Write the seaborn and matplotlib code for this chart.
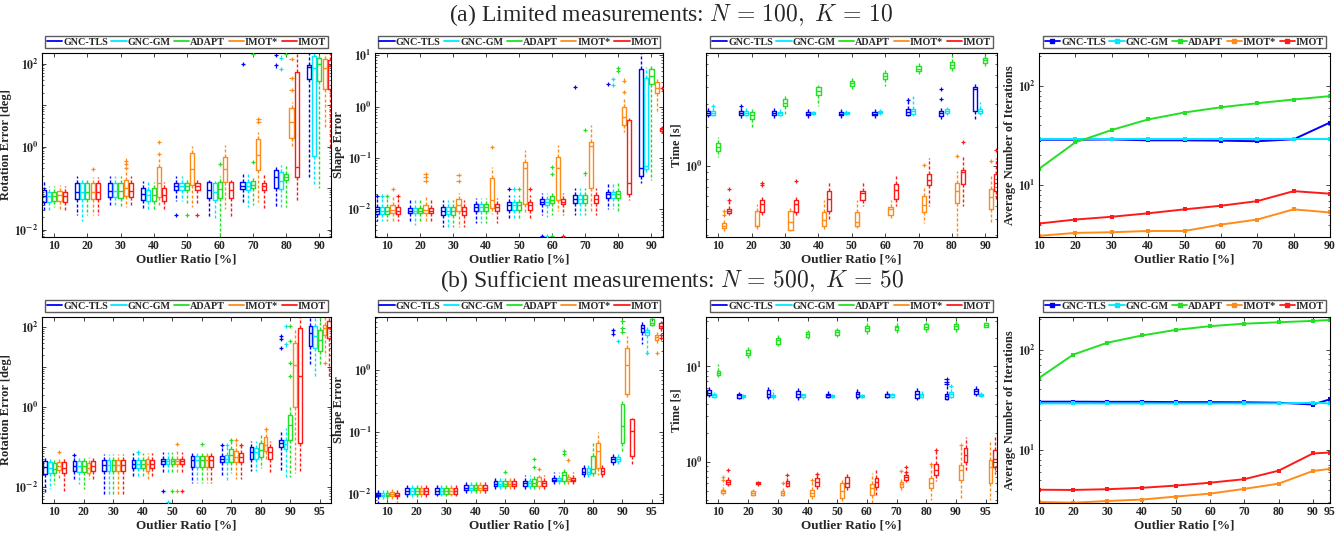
import numpy as np
import pandas as pd
import matplotlib
matplotlib.use('Agg')
import matplotlib.pyplot as plt
import seaborn as sns
from matplotlib.lines import Line2D
from matplotlib.ticker import LogLocator, FuncFormatter, NullFormatter

methods = ['GNC-TLS', 'GNC-GM', 'ADAPT', 'IMOT*', 'IMOT']
colors = ['#0000ff', '#00e8ff', '#22e022', '#ff8c1a', '#ff1a1a']
ratios_a = ['10', '20', '30', '40', '50', '60', '70', '80', '90']
ratios_b = ['10', '20', '30', '40', '50', '60', '70', '80', '90', '95']

# ---- (a) rotation error, rows = outlier ratio, cols = methods
rot_a_lo = [[0.028, 0.030, 0.035, 0.030, 0.030], [0.022, 0.016, 0.022, 0.022, 0.022],
            [0.038, 0.035, 0.035, 0.035, 0.035], [0.030, 0.028, 0.030, 0.035, 0.028],
            [0.050, 0.050, 0.040, 0.035, 0.040], [0.020, 0.017, 0.007, 0.032, 0.020],
            [0.041, 0.034, 0.038, 0.045, 0.032], [0.034, 0.034, 0.034, 0.96, 0.046],
            [0.18, 0.11, 0.10, 3.0, 1.0]]
rot_a_q1 = [[0.047, 0.046, 0.048, 0.048, 0.047], [0.055, 0.055, 0.055, 0.055, 0.055],
            [0.060, 0.060, 0.058, 0.065, 0.060], [0.051, 0.050, 0.050, 0.060, 0.050],
            [0.090, 0.090, 0.090, 0.120, 0.090], [0.057, 0.052, 0.058, 0.140, 0.057],
            [0.093, 0.090, 0.100, 0.270, 0.090], [0.100, 0.095, 0.160, 1.6, 0.18],
            [42, 0.60, 38, 24, 25]]
rot_a_med = [[0.065, 0.063, 0.063, 0.068, 0.063], [0.080, 0.080, 0.080, 0.080, 0.080],
             [0.085, 0.085, 0.085, 0.100, 0.085], [0.070, 0.068, 0.068, 0.130, 0.068],
             [0.110, 0.110, 0.110, 0.290, 0.110], [0.088, 0.080, 0.095, 0.290, 0.088],
             [0.110, 0.110, 0.120, 0.640, 0.110], [0.180, 0.150, 0.180, 3.9, 0.32],
             [83, 80, 96, 80, 88]]
rot_a_q3 = [[0.090, 0.080, 0.080, 0.085, 0.080], [0.13, 0.13, 0.13, 0.13, 0.13],
            [0.13, 0.13, 0.13, 0.16, 0.13], [0.10, 0.09, 0.10, 0.32, 0.10],
            [0.13, 0.13, 0.13, 0.70, 0.13], [0.14, 0.13, 0.14, 0.55, 0.14],
            [0.14, 0.14, 0.15, 1.5, 0.13], [0.27, 0.24, 0.22, 8.5, 63],
            [90, 150, 140, 126, 120]]
rot_a_hi = [[0.16, 0.11, 0.11, 0.12, 0.11], [0.19, 0.17, 0.17, 0.18, 0.18],
            [0.20, 0.20, 0.20, 0.25, 0.20], [0.15, 0.14, 0.14, 0.55, 0.14],
            [0.19, 0.19, 0.17, 1.05, 0.17], [0.16, 0.15, 0.20, 1.1, 0.16],
            [0.22, 0.23, 0.20, 2.2, 0.22], [0.35, 0.35, 0.35, 12, 180],
            [180, 180, 180, 180, 180]]
rot_a_out = [(1, 3, 0.29), (2, 3, 0.46), (2, 3, 0.39), (2, 3, 0.31), (3, 3, 1.3), (3, 3, 0.67),
             (4, 0, 0.022), (4, 2, 0.022), (4, 4, 0.022), (5, 2, 0.37), (6, 3, 4.6), (6, 3, 4.0),
             (6, 2, 0.42), (6, 0, 100), (6, 2, 170), (7, 0, 158), (7, 0, 90), (7, 1, 140),
             (7, 1, 73), (7, 2, 170), (7, 3, 44), (7, 3, 23), (7, 3, 130)]

# ---- (a) shape error
shape_a_lo = [[0.006, 0.006, 0.006, 0.006, 0.006], [0.0056, 0.005, 0.0056, 0.0056, 0.0056],
              [0.0046, 0.0046, 0.0046, 0.0046, 0.0046], [0.0055, 0.0055, 0.0055, 0.0083, 0.0055],
              [0.0064, 0.0064, 0.0064, 0.0083, 0.0064], [0.0077, 0.007, 0.0077, 0.0092, 0.0077],
              [0.0077, 0.0077, 0.0077, 0.009, 0.0077], [0.010, 0.010, 0.0095, 0.32, 0.015],
              [0.032, 0.05, 0.038, 0.8, 0.30]]
shape_a_q1 = [[0.008, 0.008, 0.008, 0.0085, 0.008], [0.0084, 0.0084, 0.0084, 0.0084, 0.0084],
              [0.0078, 0.0082, 0.0078, 0.0095, 0.0078], [0.0093, 0.0093, 0.0093, 0.0105, 0.0093],
              [0.0099, 0.0099, 0.0099, 0.013, 0.0099], [0.0127, 0.012, 0.0135, 0.015, 0.0127],
              [0.0135, 0.0135, 0.0135, 0.026, 0.0135], [0.017, 0.017, 0.017, 0.44, 0.020],
              [0.045, 0.060, 2.7, 1.8, 0.34]]
shape_a_med = [[0.0093, 0.0093, 0.0093, 0.0098, 0.0093], [0.0093, 0.0093, 0.0093, 0.0098, 0.0093],
               [0.0093, 0.0095, 0.0093, 0.012, 0.0093], [0.0113, 0.0113, 0.0113, 0.0152, 0.0113],
               [0.012, 0.012, 0.012, 0.063, 0.012], [0.014, 0.014, 0.0155, 0.063, 0.014],
               [0.016, 0.016, 0.016, 0.17, 0.016], [0.020, 0.020, 0.020, 0.64, 0.032],
               [0.063, 0.070, 4.0, 2.3, 0.36]]
shape_a_q3 = [[0.011, 0.011, 0.011, 0.012, 0.011], [0.0105, 0.0105, 0.0105, 0.012, 0.0105],
              [0.011, 0.0112, 0.011, 0.016, 0.011], [0.0127, 0.0127, 0.0127, 0.041, 0.0127],
              [0.0136, 0.0136, 0.0136, 0.082, 0.0136], [0.016, 0.016, 0.018, 0.105, 0.016],
              [0.019, 0.019, 0.019, 0.20, 0.019], [0.022, 0.022, 0.023, 0.97, 0.55],
              [5.4, 3.6, 5.4, 3.0, 0.38]]
shape_a_hi = [[0.016, 0.016, 0.016, 0.018, 0.016], [0.015, 0.015, 0.015, 0.018, 0.015],
              [0.015, 0.015, 0.015, 0.021, 0.015], [0.017, 0.017, 0.017, 0.066, 0.017],
              [0.019, 0.019, 0.019, 0.14, 0.019], [0.021, 0.021, 0.022, 0.18, 0.021],
              [0.026, 0.026, 0.026, 0.43, 0.026], [0.032, 0.032, 0.033, 1.5, 0.60],
              [11, 5.8, 6.8, 3.6, 0.42]]
shape_a_out = [(0, 0, 0.018), (0, 1, 0.018), (0, 2, 0.018), (0, 3, 0.025), (0, 4, 0.018),
               (1, 3, 0.048), (1, 3, 0.042), (1, 3, 0.036), (2, 3, 0.046), (2, 3, 0.036),
               (3, 3, 0.16), (4, 0, 0.025), (4, 1, 0.025), (4, 2, 0.025), (4, 4, 0.025),
               (5, 0, 0.003), (5, 1, 0.0031), (5, 2, 0.003), (5, 4, 0.003), (5, 2, 0.066),
               (5, 2, 0.048), (6, 0, 2.4), (6, 2, 0.35), (6, 2, 0.05), (7, 0, 2.7), (7, 1, 2.6),
               (7, 1, 3.4), (7, 2, 5.6), (7, 2, 4.9), (7, 3, 1.9), (7, 3, 3.2), (8, 4, 2.3)]

# ---- (a) time
time_a_lo = [[2.37, 2.4, 1.17, 0.32, 0.43], [2.3, 2.4, 1.94, 0.33, 0.43], [2.35, 2.4, 2.5, 0.32, 0.42],
             [2.35, 2.45, 2.86, 0.33, 0.40], [2.35, 2.45, 3.86, 0.34, 0.50], [2.35, 2.45, 4.1, 0.40, 0.50],
             [2.4, 2.4, 5.0, 0.37, 0.50], [2.2, 2.45, 5.1, 0.28, 0.50], [2.3, 2.45, 5.6, 0.37, 0.55]]
time_a_q1 = [[2.45, 2.45, 1.31, 0.34, 0.44], [2.45, 2.47, 2.3, 0.35, 0.45], [2.45, 2.45, 2.86, 0.33, 0.45],
             [2.45, 2.5, 3.5, 0.35, 0.46], [2.45, 2.5, 4.1, 0.35, 0.55], [2.47, 2.55, 4.65, 0.43, 0.56],
             [2.47, 2.5, 5.3, 0.45, 0.72], [2.4, 2.55, 5.6, 0.53, 0.74], [2.65, 2.55, 6.1, 0.47, 0.65]]
time_a_med = [[2.55, 2.55, 1.4, 0.35, 0.46], [2.55, 2.55, 2.45, 0.35, 0.52], [2.55, 2.55, 3.05, 0.38, 0.52],
              [2.5, 2.55, 3.76, 0.39, 0.56], [2.5, 2.55, 4.3, 0.38, 0.63], [2.52, 2.6, 4.9, 0.47, 0.66],
              [2.6, 2.65, 5.55, 0.51, 0.79], [2.55, 2.65, 5.9, 0.65, 0.91], [3.9, 2.65, 6.5, 0.58, 0.75]]
time_a_q3 = [[2.65, 2.65, 1.5, 0.37, 0.47], [2.65, 2.65, 2.6, 0.46, 0.55], [2.65, 2.6, 3.25, 0.46, 0.55],
             [2.6, 2.6, 4.0, 0.45, 0.65], [2.6, 2.6, 4.5, 0.45, 0.65], [2.58, 2.65, 5.1, 0.49, 0.73],
             [2.75, 2.75, 5.8, 0.60, 0.88], [2.65, 2.75, 6.2, 0.75, 0.94], [4.0, 2.75, 6.7, 0.67, 0.87]]
time_a_hi = [[2.9, 2.8, 1.68, 0.39, 0.55], [2.85, 2.85, 2.75, 0.52, 0.61], [2.8, 2.75, 3.45, 0.48, 0.58],
             [2.8, 2.65, 4.2, 0.55, 0.77], [2.75, 2.7, 4.9, 0.55, 0.77], [2.75, 2.75, 5.5, 0.55, 0.85],
             [3.3, 3.45, 6.4, 0.71, 1.15], [2.85, 2.85, 7.1, 0.92, 1.19], [4.35, 3.1, 7.3, 0.84, 1.15]]
time_a_out = [(0, 1, 2.9), (0, 3, 0.46), (0, 3, 0.43), (0, 4, 0.67), (0, 4, 0.55), (1, 0, 2.9),
              (1, 4, 0.75), (1, 4, 0.72), (2, 4, 0.77), (6, 0, 3.2), (6, 3, 1.03), (7, 0, 3.9),
              (7, 0, 3.25), (7, 3, 1.2), (7, 4, 1.54), (8, 3, 1.09), (8, 4, 1.33)]

# ---- (b) rotation error
rot_b_lo = [[0.007, 0.009, 0.012, 0.016, 0.008], [0.014, 0.012, 0.009, 0.016, 0.016],
            [0.0063, 0.0063, 0.0063, 0.0063, 0.0063], [0.018, 0.018, 0.018, 0.016, 0.018],
            [0.022, 0.022, 0.022, 0.022, 0.022], [0.0126, 0.0126, 0.0126, 0.0126, 0.0126],
            [0.018, 0.015, 0.022, 0.016, 0.016], [0.025, 0.025, 0.030, 0.044, 0.022],
            [0.026, 0.017, 0.018, 0.022, 0.022], [11.5, 5.3, 10.5, 19, 5.9]]
rot_b_q1 = [[0.021, 0.022, 0.022, 0.027, 0.022], [0.026, 0.024, 0.024, 0.022, 0.026],
            [0.025, 0.025, 0.025, 0.025, 0.025], [0.030, 0.030, 0.030, 0.025, 0.030],
            [0.038, 0.038, 0.038, 0.038, 0.038], [0.032, 0.032, 0.032, 0.032, 0.032],
            [0.043, 0.043, 0.043, 0.043, 0.043], [0.050, 0.050, 0.057, 0.080, 0.050],
            [0.10, 0.09, 0.15, 1.0, 0.13], [33, 30, 25, 65, 54]]
rot_b_med = [[0.031, 0.030, 0.028, 0.034, 0.030], [0.034, 0.034, 0.034, 0.030, 0.034],
             [0.036, 0.036, 0.036, 0.036, 0.036], [0.037, 0.037, 0.037, 0.037, 0.037],
             [0.044, 0.044, 0.044, 0.044, 0.044], [0.047, 0.047, 0.047, 0.047, 0.047],
             [0.050, 0.050, 0.063, 0.057, 0.055], [0.077, 0.075, 0.085, 0.11, 0.077],
             [0.125, 0.12, 0.35, 11.5, 5.9], [72, 60, 49, 96, 96]]
rot_b_q3 = [[0.044, 0.042, 0.040, 0.042, 0.042], [0.044, 0.044, 0.044, 0.040, 0.044],
            [0.047, 0.047, 0.047, 0.047, 0.047], [0.047, 0.047, 0.047, 0.050, 0.047],
            [0.050, 0.050, 0.050, 0.050, 0.050], [0.060, 0.060, 0.060, 0.060, 0.060],
            [0.060, 0.065, 0.092, 0.080, 0.070], [0.10, 0.095, 0.13, 0.18, 0.10],
            [0.15, 0.15, 0.63, 40, 96], [105, 105, 87, 115, 140]]
rot_b_hi = [[0.055, 0.050, 0.050, 0.056, 0.052], [0.060, 0.057, 0.057, 0.056, 0.060],
            [0.068, 0.068, 0.068, 0.068, 0.068], [0.070, 0.070, 0.070, 0.070, 0.070],
            [0.076, 0.076, 0.076, 0.085, 0.076], [0.070, 0.070, 0.070, 0.070, 0.070],
            [0.11, 0.11, 0.15, 0.14, 0.11], [0.14, 0.14, 0.20, 0.30, 0.14],
            [0.27, 0.30, 1.0, 96, 180], [180, 180, 180, 180, 180]]
rot_b_out = [(0, 3, 0.075), (1, 0, 0.065), (3, 1, 0.075), (4, 0, 0.008), (4, 1, 0.0042),
             (4, 2, 0.008), (4, 3, 0.008), (4, 4, 0.008), (4, 3, 0.12), (5, 2, 0.12), (6, 2, 0.15),
             (6, 3, 0.15), (6, 4, 0.11), (6, 0, 0.11), (6, 1, 0.11), (7, 3, 0.28), (8, 0, 59),
             (8, 0, 51), (8, 0, 30), (8, 1, 37), (8, 1, 105), (8, 2, 105), (8, 2, 45), (8, 2, 13),
             (8, 2, 6), (9, 3, 13)]

# ---- (b) shape error
shape_b_lo = [[0.0073, 0.0085, 0.0075, 0.0085, 0.0075], [0.009, 0.009, 0.009, 0.009, 0.009],
              [0.0095, 0.0095, 0.0095, 0.0095, 0.0095], [0.0102, 0.0102, 0.0102, 0.0102, 0.0102],
              [0.0122, 0.0122, 0.0122, 0.0122, 0.0122], [0.0115, 0.0115, 0.0115, 0.0115, 0.0115],
              [0.0138, 0.0138, 0.0138, 0.0138, 0.0138], [0.019, 0.019, 0.019, 0.020, 0.018],
              [0.029, 0.030, 0.048, 0.36, 0.031], [2.6, 1.9, 5.1, 2.5, 4.0]]
shape_b_q1 = [[0.0093, 0.0093, 0.0093, 0.0095, 0.0093], [0.0102, 0.0102, 0.0102, 0.0102, 0.0102],
              [0.0102, 0.0102, 0.0102, 0.0102, 0.0102], [0.0116, 0.0116, 0.0116, 0.0116, 0.0116],
              [0.0134, 0.0134, 0.0134, 0.0134, 0.0134], [0.0134, 0.0134, 0.0134, 0.0134, 0.0134],
              [0.016, 0.016, 0.016, 0.016, 0.016], [0.021, 0.021, 0.022, 0.026, 0.021],
              [0.033, 0.034, 0.068, 0.41, 0.042], [4.2, 3.7, 5.4, 3.1, 4.8]]
shape_b_med = [[0.0098, 0.0098, 0.0098, 0.0102, 0.0098], [0.0113, 0.0113, 0.0113, 0.0113, 0.0113],
               [0.0113, 0.0113, 0.0113, 0.0113, 0.0113], [0.0125, 0.0125, 0.0125, 0.0125, 0.0125],
               [0.0146, 0.0146, 0.0146, 0.0146, 0.0146], [0.015, 0.015, 0.015, 0.016, 0.015],
               [0.017, 0.017, 0.020, 0.0175, 0.017], [0.023, 0.023, 0.025, 0.050, 0.024],
               [0.037, 0.037, 0.127, 1.23, 0.105], [4.8, 4.1, 5.7, 3.4, 5.1]]
shape_b_q3 = [[0.0105, 0.0105, 0.0105, 0.011, 0.0105], [0.0124, 0.0124, 0.0124, 0.0124, 0.0124],
              [0.0124, 0.0124, 0.0124, 0.0124, 0.0124], [0.0138, 0.0138, 0.0138, 0.0138, 0.0138],
              [0.016, 0.016, 0.016, 0.016, 0.016], [0.0165, 0.0165, 0.0175, 0.019, 0.0165],
              [0.018, 0.018, 0.027, 0.019, 0.018], [0.026, 0.026, 0.042, 0.068, 0.026],
              [0.040, 0.040, 0.28, 2.3, 0.166], [5.4, 4.5, 6.6, 3.7, 5.7]]
shape_b_hi = [[0.012, 0.0125, 0.012, 0.012, 0.012], [0.014, 0.014, 0.014, 0.014, 0.014],
              [0.015, 0.015, 0.015, 0.015, 0.015], [0.0165, 0.0165, 0.0165, 0.017, 0.0165],
              [0.0187, 0.0187, 0.0187, 0.0187, 0.0187], [0.020, 0.020, 0.020, 0.020, 0.020],
              [0.0225, 0.0225, 0.0225, 0.0225, 0.0225], [0.029, 0.029, 0.073, 0.10, 0.029],
              [0.046, 0.046, 0.32, 3.6, 0.17], [6.1, 5.0, 7.2, 4.3, 6.2]]
shape_b_out = [(4, 2, 0.0225), (5, 2, 0.037), (5, 2, 0.027), (5, 3, 0.025), (6, 2, 0.05),
               (6, 2, 0.045), (6, 3, 0.035), (8, 0, 4.4), (8, 0, 3.9), (8, 1, 2.9), (8, 2, 6.1),
               (8, 2, 4.8), (8, 2, 4.2), (9, 1, 1.9), (9, 3, 1.9), (9, 4, 3.7), (9, 4, 3.3)]

# ---- (b) time
time_b_lo = [[4.8, 4.7, 7.7, 0.45, 0.56], [4.6, 4.6, 12.3, 0.44, 0.56], [4.6, 4.6, 16.5, 0.44, 0.55],
             [4.5, 4.6, 19.5, 0.40, 0.52], [4.7, 4.7, 20.5, 0.39, 0.50], [4.6, 4.7, 21.5, 0.35, 0.45],
             [4.7, 4.7, 22.5, 0.50, 0.62], [4.4, 4.7, 22.5, 0.40, 0.63], [4.4, 4.7, 22, 0.40, 0.78],
             [4.9, 4.8, 26, 0.40, 0.75]]
time_b_q1 = [[5.0, 4.8, 8.2, 0.47, 0.58], [4.7, 4.8, 13.2, 0.45, 0.59], [4.8, 4.8, 17.3, 0.45, 0.56],
             [4.8, 4.8, 20.3, 0.44, 0.56], [4.8, 4.8, 21.6, 0.42, 0.54], [4.8, 4.8, 23.3, 0.45, 0.54],
             [4.8, 4.8, 24, 0.55, 0.64], [4.7, 4.8, 24.5, 0.53, 0.73], [4.6, 4.8, 24.6, 0.64, 1.0],
             [5.2, 4.9, 26, 0.60, 0.89]]
time_b_med = [[5.3, 5.0, 8.5, 0.49, 0.62], [5.0, 4.9, 14, 0.47, 0.60], [5.2, 4.9, 18.8, 0.47, 0.60],
              [5.2, 5.0, 22, 0.47, 0.62], [5.0, 4.9, 23, 0.49, 0.60], [5.1, 4.95, 25.3, 0.53, 0.62],
              [5.1, 5.0, 26, 0.58, 0.70], [5.2, 5.0, 26, 0.60, 0.82], [4.85, 5.1, 26.8, 0.82, 1.17],
              [5.5, 5.0, 27, 0.89, 1.08]]
time_b_q3 = [[5.6, 5.2, 9.0, 0.51, 0.65], [5.2, 5.0, 15, 0.49, 0.62], [5.6, 5.0, 20, 0.49, 0.63],
             [5.5, 5.1, 22.7, 0.51, 0.67], [5.2, 5.0, 24.2, 0.60, 0.70], [5.4, 5.0, 26.8, 0.58, 0.67],
             [5.2, 5.1, 26.8, 0.62, 0.73], [5.5, 5.2, 28, 0.67, 0.96], [5.2, 5.4, 27.8, 0.92, 1.38],
             [5.8, 5.2, 28.5, 1.04, 1.32]]
time_b_hi = [[6.3, 5.4, 10.5, 0.59, 0.69], [5.4, 5.1, 16.2, 0.52, 0.63], [6.3, 5.8, 21.6, 0.53, 0.69],
             [6.0, 5.2, 24.2, 0.63, 0.77], [5.6, 5.1, 25.5, 0.66, 0.78], [6.0, 5.2, 30.6, 0.77, 0.82],
             [5.6, 5.3, 28.5, 0.66, 0.80], [6.1, 5.6, 29.5, 0.95, 1.3], [6.2, 6.3, 32, 1.49, 1.82],
             [6.5, 5.4, 29.5, 1.65, 1.82]]
time_b_out = [(0, 3, 0.69), (0, 3, 0.64), (0, 4, 0.82), (2, 3, 0.60), (2, 4, 0.72), (3, 4, 0.75),
              (3, 3, 0.64), (6, 4, 0.88), (6, 4, 0.78), (6, 3, 0.80), (7, 3, 0.95), (7, 4, 1.33),
              (8, 0, 7.4), (8, 0, 6.9), (8, 0, 6.6), (8, 3, 1.5), (8, 1, 6.2)]

# ---- average number of iterations
iter_x_a = [10, 20, 30, 40, 50, 60, 70, 80, 90]
iter_a_tls = [28.7, 28.7, 28.9, 28.3, 28.3, 28.1, 27.7, 29.0, 42.8]
iter_a_gm = [29.0, 29.0, 29.0, 29.0, 29.0, 29.0, 29.0, 29.0, 29.0]
iter_a_adapt = [14.6, 27, 36, 46, 54, 61, 67, 73, 79]
iter_a_imots = [3.08, 3.3, 3.35, 3.45, 3.45, 4.0, 4.5, 5.7, 5.3]
iter_a_imot = [4.1, 4.5, 4.8, 5.2, 5.7, 6.2, 6.9, 8.7, 8.2]

iter_x_b = [10, 20, 30, 40, 50, 60, 70, 80, 90, 95]
iter_b_tls = [30.2, 30.2, 30.1, 30.1, 29.9, 29.9, 29.8, 29.5, 28.3, 31.9]
iter_b_gm = [29.0, 29.0, 29.0, 29.0, 29.0, 29.0, 29.0, 29.0, 29.5, 29.0]
iter_b_adapt = [52, 89, 117, 138, 157, 171, 181, 187, 193, 197]
iter_b_imots = [3.02, 2.97, 3.09, 3.19, 3.42, 3.66, 4.08, 4.6, 6.15, 6.45]
iter_b_imot = [4.0, 3.98, 4.05, 4.18, 4.4, 4.7, 5.1, 6.2, 9.2, 9.4]

sns.set_theme(style='ticks')
plt.rcParams['font.family'] = ['Liberation Serif', 'DejaVu Serif']
plt.rcParams['font.weight'] = 'bold'
plt.rcParams['axes.labelweight'] = 'bold'
plt.rcParams['mathtext.fontset'] = 'stix'
plt.rcParams['axes.linewidth'] = 0.8
plt.rcParams['axes.edgecolor'] = 'black'

W, H = 1343, 533
fig = plt.figure(figsize=(W / 100, H / 100), dpi=100)

cols = [(42, 331), (375, 663), (706, 997), (1039, 1330)]
rows = [(53, 237), (317, 503)]


def make_ax(r, c):
    (x0, x1), (y0, y1) = cols[c], rows[r]
    return fig.add_axes([x0 / W, 1 - y1 / H, (x1 - x0) / W, (y1 - y0) / H])


def box_frame(lo, q1, med, q3, hi, ratios):
    recs = []
    for g, r in enumerate(ratios):
        for m, name in enumerate(methods):
            for arr in (lo, q1, med, q3, hi):
                recs.append((r, name, arr[g][m]))
    return pd.DataFrame(recs, columns=['ratio', 'method', 'value'])


def decorate(ax, ylabel, labelled, ylim, legend_marker=None):
    ax.set_yscale('log')
    ax.set_ylim(*ylim)
    ax.yaxis.set_major_locator(LogLocator(base=10, numticks=30))
    ax.yaxis.set_minor_locator(LogLocator(base=10, subs=np.arange(2, 10), numticks=30))
    ax.yaxis.set_minor_formatter(NullFormatter())
    ax.yaxis.set_major_formatter(FuncFormatter(
        lambda v, p: r'$\mathbf{10^{%d}}$' % round(np.log10(v)) if round(np.log10(v)) in labelled else ''))
    ax.tick_params(which='both', direction='in', top=True, right=True, labelsize=8.5, pad=2.5)
    ax.tick_params(which='major', length=3, width=0.6)
    ax.tick_params(which='minor', length=1.6, width=0.5)
    ax.set_ylabel(ylabel, fontsize=9, labelpad=1.5)
    ax.set_xlabel('Outlier Ratio [%]', fontsize=9.5, labelpad=1)
    for s in ax.spines.values():
        s.set_visible(True)
        s.set_linewidth(0.8)
    handles = [Line2D([], [], color=c, lw=1.3, marker=legend_marker, markersize=3) for c in colors]
    leg = ax.legend(handles, methods, ncol=5, loc='lower center', bbox_to_anchor=(0.5, 1.025),
                    frameon=True, fancybox=False, edgecolor='#333333', fontsize=7.3,
                    handlelength=1.5, handletextpad=0.1, columnspacing=0.35, borderpad=0.15,
                    borderaxespad=0)
    leg.get_frame().set_linewidth(1.0)


def box_panel(r, c, stats, outs, ratios, ylabel, labelled, ylim, xlim):
    ax = make_ax(r, c)
    df = box_frame(*stats, ratios)
    sns.boxplot(data=df, x='ratio', y='value', hue='method', order=ratios, hue_order=methods,
                palette=colors, fill=False, whis=(0, 100), width=0.8, gap=0.22, linewidth=1.0,
                showcaps=False, whiskerprops=dict(linestyle=(0, (2.2, 1.4))),
                log_scale=True, legend=False, ax=ax)
    od = pd.DataFrame([(ratios[g], methods[m], v) for g, m, v in outs],
                      columns=['ratio', 'method', 'value'])
    sns.stripplot(data=od, x='ratio', y='value', hue='method', order=ratios, hue_order=methods,
                  palette=colors, dodge=True, jitter=False, marker='+', size=3, linewidth=0.9,
                  legend=False, ax=ax)
    ax.set_xlim(*xlim)
    decorate(ax, ylabel, labelled, ylim)
    return ax


def line_panel(r, c, x, series, xticks, ylim):
    ax = make_ax(r, c)
    df = pd.DataFrame({'ratio': np.tile(x, len(methods)),
                       'iters': np.concatenate(series),
                       'method': np.repeat(methods, len(x))})
    sns.lineplot(data=df, x='ratio', y='iters', hue='method', hue_order=methods, palette=colors,
                 marker='s', markersize=3.5, markeredgewidth=0, linewidth=1.4, legend=False, ax=ax)
    ax.set_xlim(x[0], x[-1])
    ax.set_xticks(xticks)
    decorate(ax, 'Average Number of Iterations', {1, 2}, ylim, legend_marker='s')
    ax.xaxis.set_minor_locator(plt.NullLocator())
    return ax


xa, xb = (-0.37, 8.35), (-0.42, 9.38)
box_panel(0, 0, (rot_a_lo, rot_a_q1, rot_a_med, rot_a_q3, rot_a_hi), rot_a_out, ratios_a,
          'Rotation Error [deg]', {-2, 0, 2}, (0.0066, 180), xa)
box_panel(0, 1, (shape_a_lo, shape_a_q1, shape_a_med, shape_a_q3, shape_a_hi), shape_a_out, ratios_a,
          'Shape Error', {-2, -1, 0, 1}, (0.0029, 11), xa)
box_panel(0, 2, (time_a_lo, time_a_q1, time_a_med, time_a_q3, time_a_hi), time_a_out, ratios_a,
          'Time [s]', {0}, (0.29, 7.3), xa)
line_panel(0, 3, iter_x_a, [iter_a_tls, iter_a_gm, iter_a_adapt, iter_a_imots, iter_a_imot],
           iter_x_a, (3.0, 215))

box_panel(1, 0, (rot_b_lo, rot_b_q1, rot_b_med, rot_b_q3, rot_b_hi), rot_b_out, ratios_b,
          'Rotation Error [deg]', {-2, 0, 2}, (0.004, 180), xb)
box_panel(1, 1, (shape_b_lo, shape_b_q1, shape_b_med, shape_b_q3, shape_b_hi), shape_b_out, ratios_b,
          'Shape Error', {-2, -1, 0}, (0.0072, 7.2), xb)
box_panel(1, 2, (time_b_lo, time_b_q1, time_b_med, time_b_q3, time_b_hi), time_b_out, ratios_b,
          'Time [s]', {0, 1}, (0.37, 33), xb)
line_panel(1, 3, iter_x_b, [iter_b_tls, iter_b_gm, iter_b_adapt, iter_b_imots, iter_b_imot],
           iter_x_b, (2.95, 211))

fig.text(0.5, 1 - 15 / H, r'(a) Limited measurements: $N\,=\,100,\ K\,=\,10$', ha='center', va='center',
         fontsize=17, fontweight='normal', math_fontfamily='cm')
fig.text(0.5, 1 - 281 / H, r'(b) Sufficient measurements: $N\,=\,500,\ K\,=\,50$', ha='center', va='center',
         fontsize=17, fontweight='normal', math_fontfamily='cm')

fig.savefig('out.png', dpi=100)
